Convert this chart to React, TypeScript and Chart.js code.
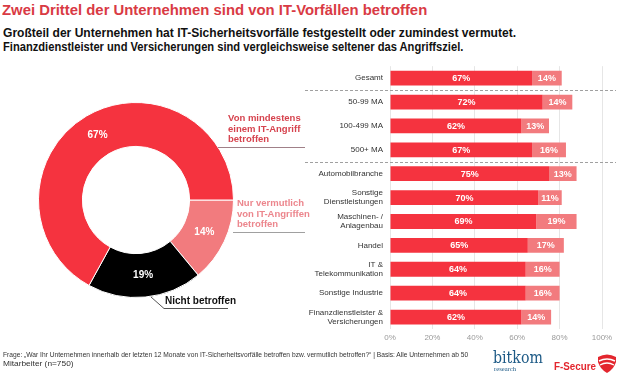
import React, { useEffect, useLayoutEffect, useRef, useState } from "react";
import { Chart, registerables } from "chart.js";

Chart.register(...registerables);

const FONT = "'Liberation Sans', Arial, sans-serif";

// Donut data (clockwise from 3 o'clock)
const donutLabels = ["Nur vermutlich betroffen", "Nicht betroffen", "Von mindestens einem IT-Angriff betroffen"];
const donutValues = [14, 19, 67];
const donutColors = ["#f27b7e", "#000000", "#f5333f"];

// Bar data
const barCategories: (string | string[])[] = [
  "Gesamt",
  "50-99 MA",
  "100-499 MA",
  "500+ MA",
  "Automobilbranche",
  ["Sonstige", "Dienstleistungen"],
  ["Maschinen- /", "Anlagenbau"],
  "Handel",
  ["IT &", "Telekommunikation"],
  "Sonstige Industrie",
  ["Finanzdienstleister &", "Versicherungen"],
];
const attacked = [67, 72, 62, 67, 75, 70, 69, 65, 64, 64, 62];
const suspected = [14, 14, 13, 16, 13, 11, 19, 17, 16, 16, 14];
const xTicks = [0, 20, 40, 60, 80, 100];
const separatorsAfter = [0, 3];

function FitText(props: {
  x: number; y: number; w: number; size: number; weight?: number | string;
  color?: string; family?: string; children: React.ReactNode;
}) {
  const ref = useRef<HTMLSpanElement>(null);
  const [s, setS] = useState(1);
  useLayoutEffect(() => {
    if (ref.current) {
      const nat = ref.current.offsetWidth;
      if (nat > 0) setS(props.w / nat);
    }
  }, []);
  return (
    <span
      ref={ref}
      style={{
        position: "absolute", left: props.x, top: props.y, whiteSpace: "nowrap",
        fontSize: props.size, fontWeight: props.weight ?? "normal", color: props.color ?? "#111",
        fontFamily: props.family ?? FONT, lineHeight: 1,
        transform: `scaleX(${s})`, transformOrigin: "0 0",
      }}
    >
      {props.children}
    </span>
  );
}

function Donut() {
  const ref = useRef<HTMLCanvasElement>(null);
  useEffect(() => {
    const labelPlugin = {
      id: "donutLabels",
      afterDatasetsDraw(chart: any) {
        const ctx = chart.ctx;
        const meta = chart.getDatasetMeta(0);
        ctx.save();
        ctx.fillStyle = "#ffffff";
        ctx.font = `bold 10px ${FONT}`;
        ctx.textAlign = "center";
        ctx.textBaseline = "middle";
        meta.data.forEach((arc: any, i: number) => {
          const p = arc.getCenterPoint();
          ctx.fillText(donutValues[i] + "%", p.x, p.y);
        });
        ctx.restore();
      },
    };
    const chart = new Chart(ref.current!, {
      type: "doughnut",
      data: {
        labels: donutLabels,
        datasets: [{ data: donutValues, backgroundColor: donutColors, borderColor: "#ffffff", borderWidth: 1 }],
      },
      options: {
        responsive: false,
        animation: false,
        devicePixelRatio: 1,
        rotation: 90,
        cutout: "55%",
        layout: { padding: 0 },
        plugins: { legend: { display: false }, tooltip: { enabled: false } },
      },
      plugins: [labelPlugin],
    } as any);
    return () => chart.destroy();
  }, []);
  return (
    <canvas ref={ref} width={196} height={196}
      style={{ position: "absolute", left: 38, top: 102, width: 196, height: 196 }} />
  );
}

function Bars() {
  const ref = useRef<HTMLCanvasElement>(null);
  useEffect(() => {
    const extras = {
      id: "extras",
      afterDatasetsDraw(chart: any) {
        const ctx = chart.ctx;
        ctx.save();
        ctx.font = `bold 9px ${FONT}`;
        ctx.textAlign = "center";
        ctx.textBaseline = "middle";
        ctx.fillStyle = "#ffffff";
        chart.data.datasets.forEach((ds: any, di: number) => {
          const meta = chart.getDatasetMeta(di);
          meta.data.forEach((bar: any, i: number) => {
            const p = bar.getCenterPoint();
            ctx.fillText(ds.data[i] + "%", p.x, p.y + 0.5);
          });
        });
        const ys = chart.scales.y;
        ctx.strokeStyle = "#a0a0a0";
        ctx.lineWidth = 1;
        ctx.setLineDash([3, 2]);
        separatorsAfter.forEach((idx) => {
          const y = Math.round(ys.getPixelForValue(idx + 0.5)) + 0.5;
          ctx.beginPath();
          ctx.moveTo(5, y);
          ctx.lineTo(316, y);
          ctx.stroke();
        });
        ctx.restore();
      },
    };
    const chart = new Chart(ref.current!, {
      type: "bar",
      data: {
        labels: barCategories,
        datasets: [
          { label: "Von mindestens einem IT-Angriff betroffen", data: attacked, backgroundColor: "#f5333f", barPercentage: 0.62, categoryPercentage: 1 },
          { label: "Nur vermutlich betroffen", data: suspected, backgroundColor: "#f27b7e", barPercentage: 0.62, categoryPercentage: 1 },
        ],
      },
      options: {
        indexAxis: "y",
        responsive: false,
        animation: false,
        devicePixelRatio: 1,
        layout: { padding: { top: 7, right: 18, left: 0, bottom: 0 } },
        plugins: { legend: { display: false }, tooltip: { enabled: false } },
        scales: {
          x: {
            stacked: true,
            min: 0,
            max: 100,
            afterBuildTicks(scale: any) {
              scale.ticks = xTicks.map((v) => ({ value: v }));
            },
            afterFit(scale: any) { scale.height = 16; },
            grid: { color: "#e6e6e6", drawTicks: false },
            border: { display: false },
            ticks: {
              padding: 4,
              color: "#9a9a9a",
              font: { family: FONT, size: 8 },
              callback: (v: any) => v + "%",
            },
          },
          y: {
            stacked: true,
            afterFit(scale: any) { scale.width = 90; },
            grid: { display: false, drawTicks: false },
            border: { display: false },
            ticks: {
              padding: 7,
              color: "#333333",
              font: { family: FONT, size: 8, lineHeight: 1.15 },
              autoSkip: false,
            },
          },
        },
      },
      plugins: [extras],
    } as any);
    return () => chart.destroy();
  }, []);
  return (
    <canvas ref={ref} width={320} height={295}
      style={{ position: "absolute", left: 300, top: 50, width: 320, height: 295 }} />
  );
}

function Annot(props: { x: number; y: number; color: string; lines: string[]; size?: number; lh?: number }) {
  return (
    <div style={{
      position: "absolute", left: props.x, top: props.y, color: props.color,
      fontFamily: FONT, fontWeight: "bold", fontSize: props.size ?? 9.5, lineHeight: `${props.lh ?? 10.5}px`,
      whiteSpace: "nowrap",
    }}>
      {props.lines.map((l, i) => <div key={i}>{l}</div>)}
    </div>
  );
}

export default function App() {
  useEffect(() => {
    document.body.style.margin = "0";
  }, []);
  return (
    <div style={{ position: "fixed", left: 0, top: 0, width: 620, height: 374, background: "#fff", overflow: "hidden" }}>
      <FitText x={2} y={2} w={425} size={15.5} weight="bold" color="#d93a44">
        Zwei Drittel der Unternehmen sind von IT-Vorfällen betroffen
      </FitText>
      <FitText x={3} y={26.5} w={513} size={12.5} weight="bold" color="#111">
        Großteil der Unternehmen hat IT-Sicherheitsvorfälle festgestellt oder zumindest vermutet.
      </FitText>
      <FitText x={3} y={41} w={460} size={12.5} weight="bold" color="#111">
        Finanzdienstleister und Versicherungen sind vergleichsweise seltener das Angriffsziel.
      </FitText>

      <Donut />
      <Bars />

      <Annot x={228} y={113} color="#d6434e" lines={["Von mindestens", "einem IT-Angriff", "betroffen"]} />
      <Annot x={237} y={198} color="#ec868d" lines={["Nur vermutlich", "von IT-Angriffen", "betroffen"]} />
      <Annot x={165} y={296} color="#111" size={10} lines={["Nicht betroffen"]} />

      <svg width={620} height={374} style={{ position: "absolute", left: 0, top: 0, pointerEvents: "none" }}>
        <line x1={218} y1={147.5} x2={305} y2={147.5} stroke="#a08088" strokeWidth={1} />
        <line x1={233} y1={232.5} x2={305} y2={232.5} stroke="#a0a0a0" strokeWidth={1} />
        <polyline points="151,297 164,308.5 228,308.5" fill="none" stroke="#555" strokeWidth={1} />
        {/* F-Secure shield mark */}
        <path d="M598,357 Q607,352 616,357 L616,362 Q614,369 607,373 Q600,369 598,362 Z" fill="#e3262e" />
        <path d="M599,361 Q607,357 615,361" stroke="#fff" strokeWidth={1.4} fill="none" />
        <path d="M600,365 Q607,361 614,365" stroke="#fff" strokeWidth={1.4} fill="none" />
      </svg>

      <FitText x={3} y={351} w={465} size={7.5} color="#333">
        Frage: „War Ihr Unternehmen innerhalb der letzten 12 Monate von IT-Sicherheitsvorfälle betroffen bzw. vermutlich betroffen?“ | Basis: Alle Unternehmen ab 50
      </FitText>
      <FitText x={3} y={360} w={71} size={7.5} color="#333">
        Mitarbeiter (n=750)
      </FitText>

      <FitText x={493} y={349} w={50} size={17} color="#1d5a86" family="'DejaVu Serif', 'Liberation Serif', serif">
        bitkom
      </FitText>
      <FitText x={494} y={366} w={22} size={6} color="#1d5a86" family="'Liberation Serif', serif">
        research
      </FitText>
      <FitText x={554} y={361} w={42} size={11} weight="bold" color="#e3262e">
        F-Secure
      </FitText>
    </div>
  );
}
